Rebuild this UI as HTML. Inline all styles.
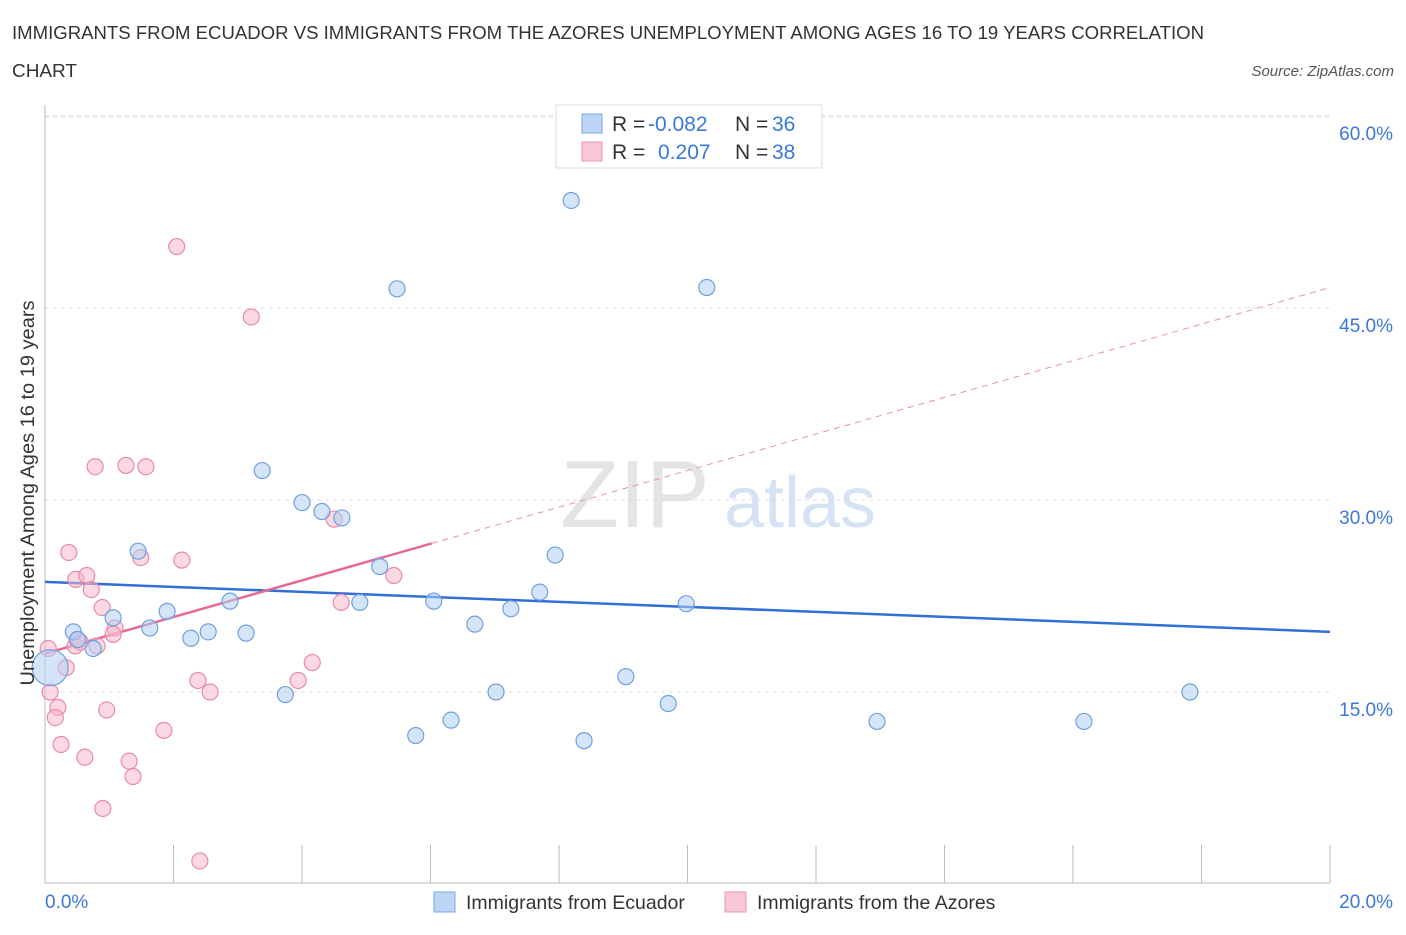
<!DOCTYPE html>
<html><head><meta charset="utf-8">
<style>
body{margin:0;background:#fff;font-family:"Liberation Sans",sans-serif;}
svg text{font-family:"Liberation Sans",sans-serif;}
</style></head>
<body>
<svg id="chart" width="1406" height="930">
<text x="12" y="39" font-size="18" fill="#333" textLength="1192" lengthAdjust="spacingAndGlyphs">IMMIGRANTS FROM ECUADOR VS IMMIGRANTS FROM THE AZORES UNEMPLOYMENT AMONG AGES 16 TO 19 YEARS CORRELATION</text>
<text x="12" y="77" font-size="18" fill="#333" textLength="65" lengthAdjust="spacingAndGlyphs">CHART</text>
<text x="1394" y="76" font-size="15" fill="#555" font-style="italic" text-anchor="end">Source: ZipAtlas.com</text>
<text x="635" y="527" font-size="96" fill="#e4e4e4" font-family="Liberation Serif" text-anchor="middle">ZIP</text>
<text x="800" y="527" font-size="72" fill="#d5e3f5" text-anchor="middle">atlas</text>
<g id="grid"></g>
<g id="axes"></g>
<g id="lines"></g>
<g id="pts"></g>
<text transform="translate(34,493) rotate(-90)" font-size="19" fill="#333" text-anchor="middle" textLength="385" lengthAdjust="spacingAndGlyphs">Unemployment Among Ages 16 to 19 years</text>
<g>
<rect x="556" y="105" width="266" height="63" fill="#fff" stroke="#ddd"/>
<rect x="582" y="114" width="20" height="19" fill="#bcd5f5" stroke="#7aa8e6"/>
<text x="612" y="131" font-size="21" fill="#333">R =</text>
<text x="648" y="131" font-size="21" fill="#3b78d8">-0.082</text>
<text x="735" y="131" font-size="21" fill="#333">N =</text>
<text x="772" y="131" font-size="21" fill="#3b78d8">36</text>
<rect x="582" y="142" width="20" height="19" fill="#f9c8d6" stroke="#ec96b2"/>
<text x="612" y="159" font-size="21" fill="#333">R =</text>
<text x="658" y="159" font-size="21" fill="#3b78d8">0.207</text>
<text x="735" y="159" font-size="21" fill="#333">N =</text>
<text x="772" y="159" font-size="21" fill="#3b78d8">38</text>
</g>
<g>
<rect x="434" y="892" width="21" height="20" fill="#bcd5f5" stroke="#7aa8e6"/>
<text x="466" y="909" font-size="19.5" fill="#333">Immigrants from Ecuador</text>
<rect x="725" y="892" width="21" height="20" fill="#f9c8d6" stroke="#ec96b2"/>
<text x="757" y="909" font-size="19.5" fill="#333">Immigrants from the Azores</text>
</g>
</svg>
<script>
const blueX=[8.19,5.48,10.30,3.38,4.00,4.31,4.62,1.45,7.94,5.21,7.70,2.88,4.90,6.05,7.25,9.98,1.90,1.06,0.44,1.63,2.27,2.54,3.13,0.75,0.51,6.69,9.04,3.74,7.02,9.70,6.32,12.95,16.17,17.82,5.77,8.39];
const blueY=[53.4,46.5,46.6,32.3,29.8,29.1,28.6,26.0,25.7,24.8,22.8,22.1,22.0,22.1,21.5,21.9,21.3,20.8,19.7,20.0,19.2,19.7,19.6,18.4,19.1,20.3,16.2,14.8,15.0,14.1,12.8,12.7,12.7,15.0,11.6,11.2];
const pinkX=[2.05,3.21,0.78,1.26,1.57,4.50,0.37,1.49,2.13,0.48,0.65,5.43,0.72,4.61,0.89,1.09,1.06,0.50,0.81,0.05,0.33,4.16,2.38,3.94,2.57,0.08,0.20,0.96,0.16,1.85,0.25,1.31,0.62,1.37,0.90,2.41,0.47,0.55];
const pinkY=[49.8,44.3,32.6,32.7,32.6,28.5,25.9,25.5,25.3,23.8,24.1,24.1,23.0,22.0,21.6,20.0,19.5,19.1,18.6,18.4,16.9,17.3,15.9,15.9,15.0,15.0,13.8,13.6,13.0,12.0,10.9,9.6,9.9,8.4,5.9,1.8,18.6,18.9];
const yTicks=[15,30,45,60];
const yTickLabels=["15.0%","30.0%","45.0%","60.0%"];
const xTicks=[0,2,4,6,8,10,12,14,16,18,20];
const blueTrend=[23.6,19.7];
const pinkTrend=[18.0,46.6];
const pinkSolidEnd=6.02;
const NS="http://www.w3.org/2000/svg";
const X=v=>45+v*64.25, Y=v=>884-v*12.8;
function mk(tag,attrs,parent){const e=document.createElementNS(NS,tag);for(const k in attrs)e.setAttribute(k,attrs[k]);document.getElementById(parent).appendChild(e);return e;}
yTicks.forEach((t,i)=>{
 const g=mk('line',{x1:45,x2:1330,y1:Y(t),y2:Y(t),stroke:'#ddd','stroke-dasharray':'4,4'},'grid');
 
 
 const tx=mk('text',{x:1393,y:Y(t)+24,'font-size':19,fill:'#3b78d8','text-anchor':'end'},'axes');
 tx.textContent=yTickLabels[i];
 
 
});
const tg=mk('line',{x1:45,x2:1330,y1:117,y2:117,stroke:'#ddd','stroke-dasharray':'4,4'},'grid');


const ax=mk('line',{x1:45,x2:45,y1:105,y2:883,stroke:'#bbb'},'axes');


const bx=mk('line',{x1:45,x2:1330,y1:883,y2:883,stroke:'#bbb'},'axes');


xTicks.forEach(t=>{
 const l=mk('line',{x1:X(t),x2:X(t),y1:845,y2:883,stroke:'#bbb'},'axes');
 
 
});
const xl0=mk('text',{x:45,y:908,'font-size':19,fill:'#3b78d8','text-anchor':'start'},'axes');xl0.textContent='0.0%';


const xl1=mk('text',{x:1393,y:908,'font-size':19,fill:'#3b78d8','text-anchor':'end'},'axes');xl1.textContent='20.0%';


function circ(x,y,r,fill,stroke,name){const c=mk('circle',{cx:X(x),cy:Y(y),r:r,fill:fill,'fill-opacity':0.55,stroke:stroke,'stroke-width':1.2},'pts');
 
 }
pinkX.forEach((x,i)=>circ(x,pinkY[i],8,'#f7b8cb','#e88aa8','azores-point'));
blueX.forEach((x,i)=>circ(x,blueY[i],8,'#b3cff2','#6fa0e0','ecuador-point'));
circ(0.08,16.9,18,'#b3cff2','#6fa0e0','ecuador-point-large');
const bl=mk('line',{x1:X(0),y1:Y(blueTrend[0]),x2:X(20),y2:Y(blueTrend[1]),stroke:'#2f6fd6','stroke-width':2.5},'lines');


const py=x=>pinkTrend[0]+(pinkTrend[1]-pinkTrend[0])*x/20;
const ps=mk('line',{x1:X(0),y1:Y(pinkTrend[0]),x2:X(pinkSolidEnd),y2:Y(py(pinkSolidEnd)),stroke:'#e46a95','stroke-width':2.5},'lines');


const pd=mk('line',{x1:X(pinkSolidEnd),y1:Y(py(pinkSolidEnd)),x2:X(20),y2:Y(pinkTrend[1]),stroke:'#e891ae','stroke-width':1,'stroke-dasharray':'6,5'},'lines');


</script>
</body></html>
